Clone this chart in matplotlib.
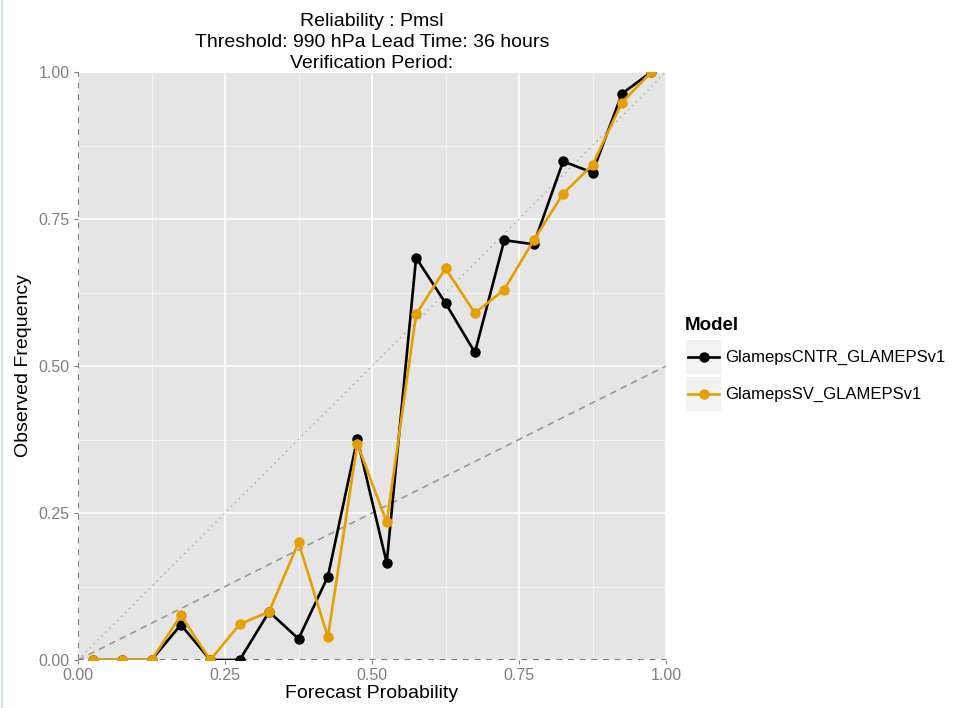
import matplotlib
matplotlib.use("Agg")
import matplotlib.pyplot as plt
from matplotlib.lines import Line2D
from matplotlib.patches import Rectangle
import numpy as np

plt.rcParams['font.family'] = ['Liberation Sans', 'DejaVu Sans']

# forecast probability bins (centres)
prob = [0.025, 0.075, 0.125, 0.175, 0.225, 0.275, 0.325, 0.375, 0.425, 0.475,
        0.525, 0.575, 0.625, 0.675, 0.725, 0.775, 0.825, 0.875, 0.925, 0.975]
obs_cntr = [0.0, 0.0, 0.0, 0.060, 0.0, 0.0, 0.082, 0.036, 0.142, 0.376,
            0.165, 0.684, 0.607, 0.523, 0.714, 0.707, 0.848, 0.829, 0.963, 1.0]
obs_sv = [0.0, 0.0, 0.0, 0.076, 0.0, 0.061, 0.082, 0.200, 0.039, 0.368,
          0.234, 0.588, 0.666, 0.590, 0.630, 0.714, 0.793, 0.842, 0.948, 1.0]
models = ['GlamepsCNTR_GLAMEPSv1', 'GlamepsSV_GLAMEPSv1']
colors = ['#000000', '#E69F00']
ticks = [0.0, 0.25, 0.5, 0.75, 1.0]
tick_labels = ['0.00', '0.25', '0.50', '0.75', '1.00']

W, H = 966, 708
fig = plt.figure(figsize=(W / 100, H / 100), dpi=100)
ax = fig.add_axes([78 / W, 48 / H, 588 / W, 588 / H])
ax.set_facecolor('#E5E5E5')

# grid
for m in [0.125, 0.375, 0.625, 0.875]:
    ax.axvline(m, color='#F2F2F2', lw=0.8, zorder=1)
    ax.axhline(m, color='#F2F2F2', lw=0.8, zorder=1)
for t in ticks:
    ax.axvline(t, color='white', lw=1.2, zorder=1)
    ax.axhline(t, color='white', lw=1.2, zorder=1)

# reference lines
xr = np.array([0.0, 1.0])
ax.plot(xr, xr, color='#AAAAAA', lw=1.0, ls=(0, (1, 3)), zorder=2)
ax.plot(xr, 0.5 * xr, color='#999999', lw=1.2, ls=(0, (4, 3)), zorder=2)
ax.axvline(0, color='#777777', lw=1.4, ls=(0, (3, 3)), zorder=2)
ax.axhline(0, color='#777777', lw=1.4, ls=(0, (3, 3)), zorder=2)

ax.plot(prob, obs_cntr, color=colors[0], lw=1.9, marker='o', ms=6.5, zorder=3)
ax.plot(prob, obs_sv, color=colors[1], lw=1.9, marker='o', ms=6.5, zorder=4)

ax.set_xlim(0, 1)
ax.set_ylim(0, 1)
ax.set_xticks(ticks)
ax.set_xticklabels(tick_labels)
ax.set_yticks(ticks)
ax.set_yticklabels(tick_labels)
ax.tick_params(colors='#7F7F7F', labelcolor='#7F7F7F', labelsize=11.5,
               length=3, width=0.8, pad=3)
for s in ax.spines.values():
    s.set_visible(False)

ax.set_xlabel('Forecast Probability', fontsize=14, labelpad=1)
ax.set_ylabel('Observed Frequency', fontsize=14, labelpad=5)
ax.set_title('Reliability : Pmsl\nThreshold: 990 hPa Lead Time: 36 hours\nVerification Period:',
             fontsize=14, linespacing=1.32, pad=2)

# legend
def fx(px):
    return px / W

def fy(py):
    return 1 - py / H

fig.text(fx(685), fy(326), 'Model', fontsize=13.5, fontweight='bold', va='center', ha='left')
for i, (name, c) in enumerate(zip(models, colors)):
    yc = 357 + 37 * i
    fig.patches.append(Rectangle((fx(686), fy(yc + 17)), 35 / W, 34 / H,
                                 transform=fig.transFigure, facecolor='#F2F2F2',
                                 edgecolor='none'))
    fig.lines.append(Line2D([fx(688), fx(719)], [fy(yc), fy(yc)], transform=fig.transFigure,
                            color=c, lw=1.9, zorder=3))
    fig.lines.append(Line2D([fx(703.5)], [fy(yc)], transform=fig.transFigure,
                            color=c, marker='o', ms=6.5, zorder=3))
    fig.text(fx(725), fy(yc), name, fontsize=12, va='center', ha='left')

# thin border at left edge of screenshot
fig.lines.append(Line2D([fx(1.5), fx(1.5)], [0, 1], transform=fig.transFigure,
                        color='#CFE6F3', lw=1.5))

fig.savefig('out.png', dpi=100)
